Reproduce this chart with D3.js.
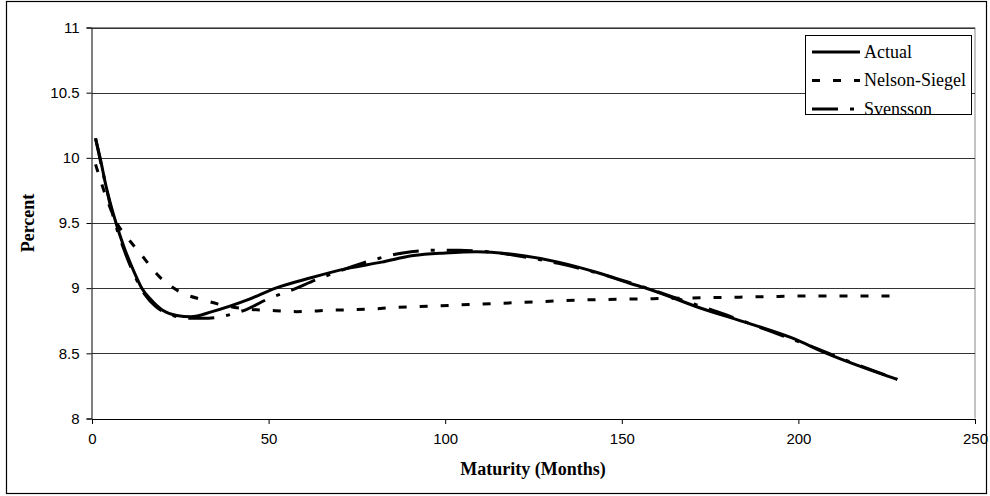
<!DOCTYPE html>
<html>
<head>
<meta charset="utf-8">
<script src="https://cdn.jsdelivr.net/npm/d3@7"></script>
<style>
    body { margin: 0; background: #fff; }
    svg { display: block; }
</style>
</head>
<body>
<svg id="vis" width="990" height="496"></svg>
<script>
// yield curve fits
const actualMonths = [1, 2.3, 4, 6.8, 9, 12, 14.1, 16.4, 20, 24, 28, 34, 44, 52, 62, 72, 82, 91, 100, 109, 119, 132, 143, 152, 158, 172, 186, 198, 208, 228];
const actualValues = [10.15, 10.0, 9.78, 9.5, 9.32, 9.12, 9.0, 8.92, 8.83, 8.79, 8.78, 8.82, 8.91, 9.0, 9.08, 9.15, 9.2, 9.25, 9.27, 9.28, 9.26, 9.2, 9.12, 9.04, 8.99, 8.85, 8.73, 8.62, 8.5, 8.3];

const nsMonths = [1, 4, 7, 9.3, 13, 19, 25, 31.5, 37, 44, 50, 58, 67, 79, 85, 103, 121, 140, 160, 181, 205, 228];
const nsValues = [9.95, 9.7, 9.5, 9.41, 9.29, 9.09, 8.97, 8.91, 8.87, 8.84, 8.83, 8.82, 8.83, 8.84, 8.85, 8.87, 8.89, 8.91, 8.92, 8.93, 8.94, 8.94];

const svMonths = [1, 3, 6, 9, 12, 15, 18, 22, 27, 33, 38, 44, 50, 56, 64, 72, 80, 88, 96, 104, 112, 120, 132, 144, 156, 168, 180, 192, 204, 216, 228];
const svValues = [10.15, 9.9, 9.55, 9.3, 9.1, 8.95, 8.86, 8.8, 8.77, 8.77, 8.79, 8.84, 8.92, 8.98, 9.07, 9.15, 9.22, 9.27, 9.29, 9.29, 9.28, 9.25, 9.19, 9.11, 9.01, 8.9, 8.79, 8.67, 8.55, 8.42, 8.3];

const xTicks = [0, 50, 100, 150, 200, 250];
const yTicks = [8, 8.5, 9, 9.5, 10, 10.5, 11];

const series = [
    { name: "Actual", months: actualMonths, values: actualValues, dash: null },
    { name: "Nelson-Siegel", months: nsMonths, values: nsValues, dash: "8,13" },
    { name: "Svensson", months: svMonths, values: svValues, dash: "26,12,4,12" }
];

const svg = d3.select('#vis');
const WIDTH = 990, HEIGHT = 496;
const plotLeft = 92, plotRight = 975, plotTop = 27.5, plotBottom = 418.5;

var x = d3.scaleLinear().domain([0, 250]).range([plotLeft, plotRight]);
var y = d3.scaleLinear().domain([8, 11]).range([plotBottom, plotTop]);

// outer chart frame
svg.append("rect")
    .attr("x", 6.5).attr("y", 1.5)
    .attr("width", 980).attr("height", 492)
    .attr("fill", "#fff")
    .attr("stroke", "#000")
    .attr("stroke-width", 1.2);

// plot frame (grey top and right)
svg.append("path")
    .attr("d", "M" + plotLeft + "," + plotTop + "H" + plotRight + "V" + plotBottom)
    .attr("fill", "none")
    .attr("stroke", "#888");

// gridlines
svg.selectAll(".grid")
    .data(yTicks.filter(function (d) { return d > 8; }))
    .enter().append("line")
    .attr("class", "grid")
    .attr("x1", plotLeft).attr("x2", plotRight)
    .attr("y1", function (d) { return Math.round(y(d)) + 0.5; })
    .attr("y2", function (d) { return Math.round(y(d)) + 0.5; })
    .attr("stroke", "#333")
    .attr("stroke-width", 1);

// axes
var xAxis = d3.axisBottom(x).tickValues(xTicks).tickSize(5).tickPadding(9).tickFormat(d3.format("d"));
var yAxis = d3.axisLeft(y).tickValues(yTicks).tickSize(5).tickPadding(7).tickFormat(function (d) { return d; });

var gx = svg.append("g").attr("transform", "translate(0," + (plotBottom + 0.5) + ")").call(xAxis);
var gy = svg.append("g").attr("transform", "translate(" + (plotLeft - 0.5) + ",0)").call(yAxis);

[gx, gy].forEach(function (g) {
    g.select(".domain").attr("stroke", "#000");
    g.selectAll(".tick line").attr("stroke", "#000");
    g.selectAll("text")
        .attr("fill", "#000")
        .style("font-family", "'Liberation Sans', Arial, sans-serif")
        .style("font-size", "15px");
});

// lines
var line = d3.line()
    .x(function (d) { return x(d[0]); })
    .y(function (d) { return y(d[1]); })
    .curve(d3.curveMonotoneX);

series.slice().reverse().forEach(function (s) {
    var pts = s.months.map(function (m, i) { return [m, s.values[i]]; });
    svg.append("path")
        .datum(pts)
        .attr("d", line)
        .attr("fill", "none")
        .attr("stroke", "#000")
        .attr("stroke-width", 3)
        .attr("stroke-dasharray", s.dash);
});

// axis titles
svg.append("text")
    .attr("x", 533).attr("y", 475)
    .attr("text-anchor", "middle")
    .style("font-family", "'Liberation Serif', 'Times New Roman', serif")
    .style("font-weight", "bold")
    .style("font-size", "18px")
    .text("Maturity (Months)");

svg.append("text")
    .attr("transform", "translate(34,223) rotate(-90)")
    .attr("text-anchor", "middle")
    .style("font-family", "'Liberation Serif', 'Times New Roman', serif")
    .style("font-weight", "bold")
    .style("font-size", "18px")
    .text("Percent");

// legend
var legend = svg.append("g");
legend.append("rect")
    .attr("x", 805.5).attr("y", 35.5)
    .attr("width", 166).attr("height", 79)
    .attr("fill", "#fff")
    .attr("stroke", "#000");

var item = legend.selectAll(".item")
    .data(series)
    .enter().append("g")
    .attr("class", "item")
    .attr("transform", function (d, i) { return "translate(0," + (52 + i * 28.5) + ")"; });

item.append("line")
    .attr("x1", 812).attr("x2", 860)
    .attr("stroke", "#000")
    .attr("stroke-width", 3)
    .attr("stroke-dasharray", function (d) { return d.dash; });

item.append("text")
    .attr("x", 864).attr("dy", "0.33em")
    .style("font-family", "'Liberation Serif', 'Times New Roman', serif")
    .style("font-size", "18px")
    .text(function (d) { return d.name; });
</script>
</body>
</html>
